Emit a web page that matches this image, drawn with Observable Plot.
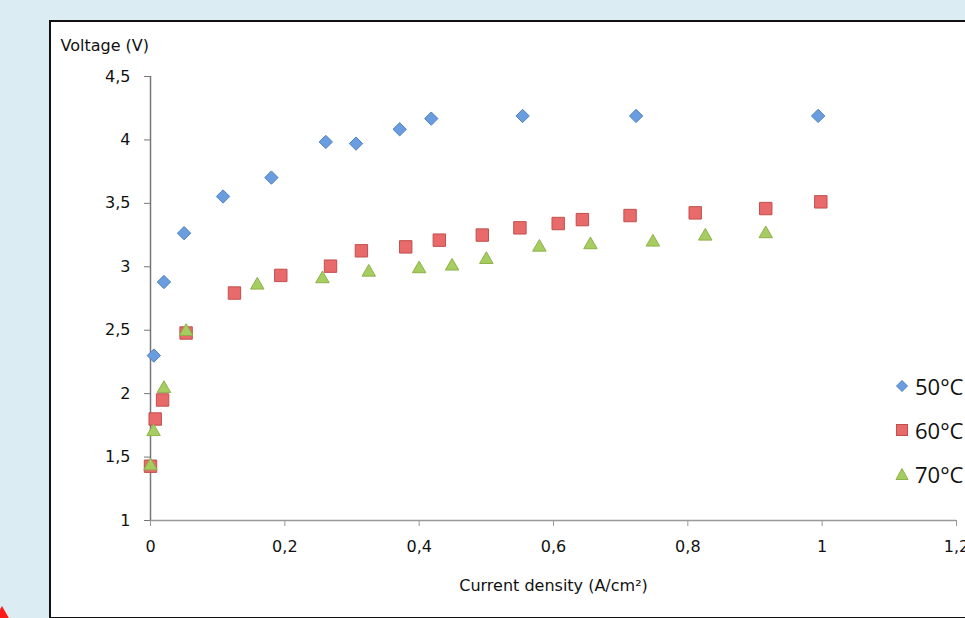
<!DOCTYPE html>
<html>
<head>
<meta charset="utf-8">
<script src="https://cdn.jsdelivr.net/npm/d3@7"></script>
<script src="https://cdn.jsdelivr.net/npm/@observablehq/plot@0.6"></script>
<style>
  html, body { margin: 0; padding: 0; }
  body { width: 965px; height: 618px; background: #dbecf2; position: relative; overflow: hidden; font-family: "DejaVu Sans", sans-serif; }
  #panel { position: absolute; left: 49px; top: 20px; width: 960px; height: 595px; background: #fff; border: 2px solid #111; }
  #chart { position: absolute; left: 0; top: 0; }
  #legend { position: absolute; left: 895px; top: 364px; font-family: "Open Sans", sans-serif; font-size: 22px; color: #111; white-space: nowrap; }
  #legend .row { height: 44px; display: flex; align-items: center; }
  #legend svg { margin-right: 6px; }
  #corner { position: absolute; left: -6px; top: 606px; width: 0; height: 0; border-left: 8px solid transparent; border-right: 8px solid transparent; border-bottom: 14px solid #ff1a1a; }
</style>
</head>
<body>
<div id="panel"></div>
<div id="corner"></div>
<div id="chart"></div>
<div id="legend"></div>
<script>
// Data
const series = ["50°C", "60°C", "70°C"];

const x50 = [0.005, 0.02, 0.05, 0.108, 0.18, 0.261, 0.306, 0.371, 0.418, 0.554, 0.723, 0.994];
const y50 = [2.30, 2.88, 3.265, 3.554, 3.703, 3.984, 3.971, 4.084, 4.168, 4.189, 4.189, 4.189];

const x60 = [0.0, 0.007, 0.018, 0.053, 0.125, 0.194, 0.268, 0.314, 0.380, 0.430, 0.494, 0.550, 0.607, 0.643, 0.714, 0.811, 0.916, 0.998];
const y60 = [1.428, 1.80, 1.95, 2.478, 2.793, 2.932, 3.005, 3.126, 3.157, 3.210, 3.25, 3.307, 3.341, 3.372, 3.404, 3.425, 3.459, 3.512];

const x70 = [0.0, 0.0045, 0.02, 0.053, 0.159, 0.256, 0.325, 0.400, 0.449, 0.500, 0.579, 0.655, 0.748, 0.826, 0.916];
const y70 = [1.43, 1.70, 2.04, 2.49, 2.855, 2.905, 2.957, 2.984, 3.005, 3.057, 3.154, 3.173, 3.194, 3.241, 3.26];

const xTicks = [0, 0.2, 0.4, 0.6, 0.8, 1, 1.2];
const yTicks = [1, 1.5, 2, 2.5, 3, 3.5, 4, 4.5];

const fmt = v => String(v).replace(".", ",");

const d50 = x50.map((x, i) => ({x, y: y50[i]}));
const d60 = x60.map((x, i) => ({x, y: y60[i]}));
const d70 = x70.map((x, i) => ({x, y: y70[i]}));

const styles = [
  {symbol: "diamond2", fill: "#6a9de0", stroke: "#4f81bd", r: 6},
  {symbol: "square", fill: "#e86a6a", stroke: "#c0504d", r: 7},
  {symbol: "triangle", fill: "#a6cd5f", stroke: "#8fb04a", r: 5}
];
const datasets = [d50, d60, d70];

const font = "'DejaVu Sans', sans-serif";

const plot = Plot.plot({
  width: 965,
  height: 618,
  marginLeft: 150,
  marginRight: 9,
  marginTop: 76,
  marginBottom: 98,
  style: {background: "transparent", fontFamily: font, overflow: "visible"},
  x: {domain: [0, 1.2], label: null},
  y: {domain: [1, 4.5], label: null},
  marks: [
    Plot.ruleY([1], {stroke: "#999", strokeWidth: 1.5}),
    Plot.ruleX([0], {stroke: "#777", strokeWidth: 1.5}),
    Plot.axisX({ticks: xTicks, tickFormat: fmt, tickSize: 6, tickPadding: 14, stroke: "#999", fontSize: 16, fill: "#111"}),
    Plot.axisY({ticks: yTicks, tickFormat: fmt, tickSize: 6, tickPadding: 14, stroke: "#777", fontSize: 16, fill: "#111"}),
    Plot.text(["Current density (A/cm²)"], {frameAnchor: "bottom", dy: 70, fontSize: 16, fill: "#111"}),
    Plot.text(["Voltage (V)"], {frameAnchor: "top-left", dx: -90, dy: -37, textAnchor: "start", fontSize: 16, fill: "#111"}),
    ...datasets.map((d, i) => Plot.dot(d, {x: "x", y: "y", symbol: styles[i].symbol, r: styles[i].r, fill: styles[i].fill, stroke: styles[i].stroke, strokeWidth: 1, fillOpacity: 1}))
  ]
});
document.getElementById("chart").appendChild(plot);

// Legend
const legend = document.getElementById("legend");
const shapes = [
  `<svg width="14" height="14"><polygon points="7,1.5 12.5,7 7,12.5 1.5,7" fill="#6a9de0" stroke="#4f81bd"/></svg>`,
  `<svg width="14" height="14"><rect x="1.5" y="1.5" width="11" height="11" fill="#e86a6a" stroke="#c0504d"/></svg>`,
  `<svg width="14" height="14"><polygon points="7,1.5 13,12.5 1,12.5" fill="#a6cd5f" stroke="#8fb04a"/></svg>`
];
series.forEach((s, i) => {
  const row = document.createElement("div");
  row.className = "row";
  row.innerHTML = shapes[i] + `<span>${s}</span>`;
  legend.appendChild(row);
});
</script>
</body>
</html>
